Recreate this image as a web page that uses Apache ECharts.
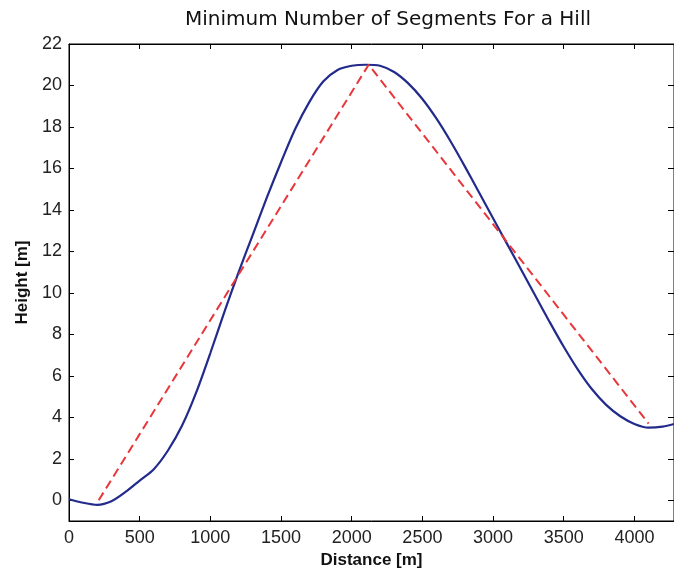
<!DOCTYPE html>
<html>
<head>
<meta charset="utf-8">
<script src="https://cdn.jsdelivr.net/npm/echarts@6/dist/echarts.min.js"></script>
<style>html,body{margin:0;padding:0;background:#fff}#c{width:674px;height:574px}</style>
</head>
<body>
<div id="c"></div>
<script>
var titleText = 'Minimum Number of Segments For a Hill';
var xName = 'Distance [m]';
var yName = 'Height [m]';
var xTicks = [0, 500, 1000, 1500, 2000, 2500, 3000, 3500, 4000];
var yTicks = [0, 2, 4, 6, 8, 10, 12, 14, 16, 18, 20, 22];
var terrainX = [0, 100, 200, 300, 400, 500, 600, 700, 800, 900, 1000, 1100, 1200, 1300, 1400, 1500, 1600, 1700, 1800, 1900, 2000, 2100, 2200, 2300, 2400, 2500, 2600, 2700, 2800, 2900, 3000, 3100, 3200, 3300, 3400, 3500, 3600, 3700, 3800, 3900, 4000, 4100, 4200, 4280];
var terrainY = [0.05, -0.12, -0.22, -0.05, 0.4, 0.95, 1.5, 2.4, 3.6, 5.2, 7.1, 9.1, 11.0, 12.8, 14.6, 16.3, 17.9, 19.2, 20.2, 20.75, 20.95, 21.0, 20.95, 20.65, 20.1, 19.35, 18.4, 17.3, 16.1, 14.85, 13.6, 12.35, 11.1, 9.85, 8.6, 7.4, 6.3, 5.35, 4.6, 4.05, 3.68, 3.5, 3.55, 3.68];
var segX = [210, 2120, 4100];
var segY = [0, 21, 3.7];

function pairs(xs, ys) { return xs.map(function (x, i) { return [x, ys[i]]; }); }
function plain(v) { return String(v); }

var xMin = 0, xMax = 4280, yMin = -1, yMax = 22;
function tickStyle(vals) {
  return { show: true, inside: true, length: 5, customValues: vals, lineStyle: { color: '#000', width: 1 } };
}
var lineStyle = { show: true, onZero: false, lineStyle: { color: '#000', width: 1 } };

var chart = echarts.init(document.getElementById('c'), null, { renderer: 'canvas' });
chart.setOption({
  animation: false,
  backgroundColor: '#fff',
  title: {
    text: titleText, left: 383, top: 5, textAlign: 'center',
    textStyle: { fontFamily: 'DejaVu Sans', fontSize: 20, fontWeight: 'normal', color: '#111' }
  },
  grid: { left: 69, right: -3, top: 44, bottom: 51, show: true, borderColor: '#000', borderWidth: 1, backgroundColor: 'transparent' },
  xAxis: [{
    type: 'value', min: xMin, max: xMax, position: 'bottom',
    name: xName, nameLocation: 'middle', nameGap: 31,
    nameTextStyle: { fontFamily: 'Liberation Sans', fontSize: 17, fontWeight: 'bold', color: '#111' },
    axisLine: lineStyle,
    axisTick: tickStyle(xTicks),
    axisLabel: { customValues: xTicks, formatter: plain, margin: 8, fontFamily: 'Liberation Sans', fontSize: 18, color: '#222' },
    splitLine: { show: false }
  }, {
    type: 'value', min: xMin, max: xMax, position: 'top',
    axisLine: lineStyle,
    axisTick: tickStyle(xTicks),
    axisLabel: { show: false },
    splitLine: { show: false }
  }],
  yAxis: [{
    type: 'value', min: yMin, max: yMax, position: 'left',
    name: yName, nameLocation: 'middle', nameGap: 38, nameRotate: 90,
    nameTextStyle: { fontFamily: 'Liberation Sans', fontSize: 17, fontWeight: 'bold', color: '#111' },
    axisLine: lineStyle,
    axisTick: tickStyle(yTicks),
    axisLabel: { customValues: yTicks, formatter: plain, margin: 7, fontFamily: 'Liberation Sans', fontSize: 18, color: '#222' },
    splitLine: { show: false }
  }, {
    type: 'value', min: yMin, max: yMax, position: 'right',
    axisLine: lineStyle,
    axisTick: { show: true, inside: true, length: 6, customValues: yTicks, lineStyle: { color: '#000', width: 1 } },
    axisLabel: { show: false },
    splitLine: { show: false }
  }],
  series: [{
    name: 'Terrain', type: 'line', xAxisIndex: 0, yAxisIndex: 0,
    data: pairs(terrainX, terrainY), showSymbol: false, smooth: 0.3,
    lineStyle: { color: '#222a8c', width: 2.2 }, z: 2
  }, {
    name: 'Segments', type: 'line', xAxisIndex: 0, yAxisIndex: 0,
    data: pairs(segX, segY), showSymbol: false,
    lineStyle: { color: '#e8363a', width: 2, type: [9, 5] }, z: 3
  }]
});
</script>
</body>
</html>
